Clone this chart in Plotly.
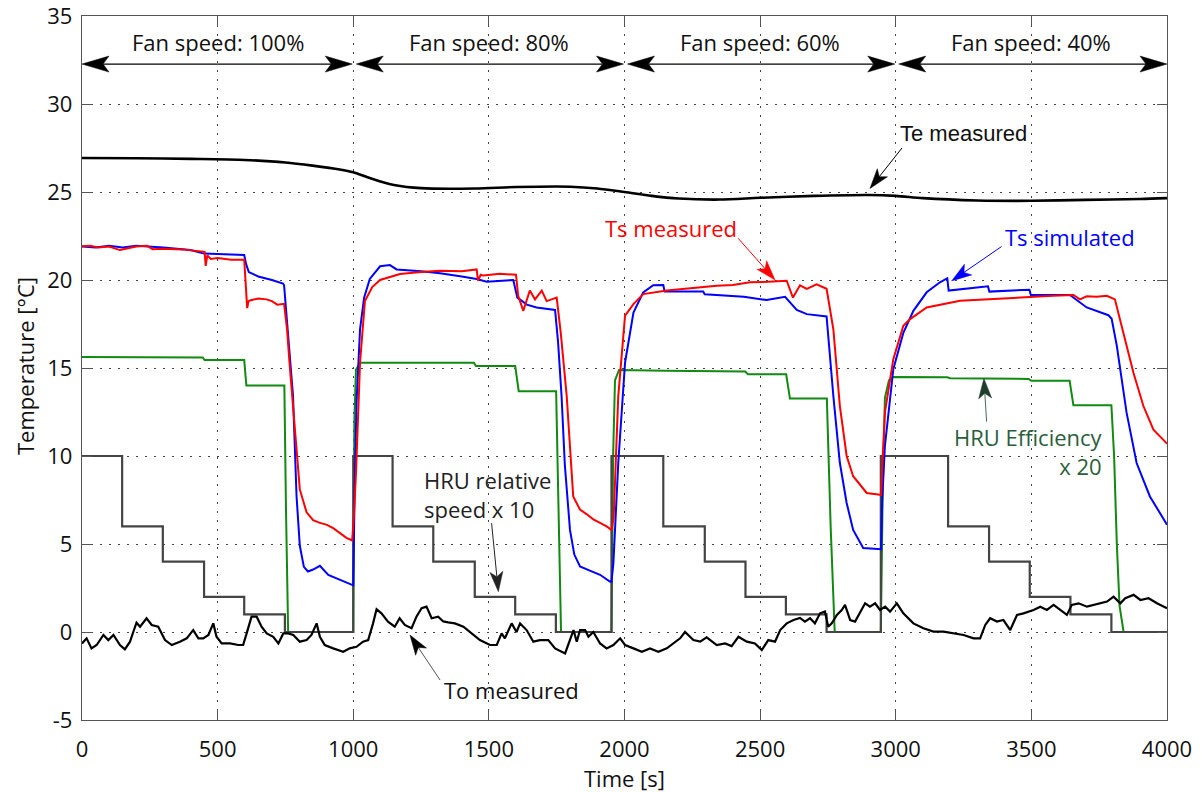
import math
import plotly.graph_objects as go

# ---------------- data ----------------
te_t = [0, 200, 400, 600, 750, 850, 950, 1000, 1050, 1100, 1150, 1250, 1450, 1600, 1800, 1900,
        2000, 2100, 2200, 2350, 2500, 2700, 2900, 3000, 3100, 3300, 3500, 3700, 3900, 4000]
te_v = [26.93, 26.92, 26.88, 26.82, 26.68, 26.5, 26.28, 26.12, 25.85, 25.6, 25.4, 25.22, 25.2, 25.28, 25.3, 25.2,
        25.0, 24.78, 24.63, 24.57, 24.67, 24.78, 24.83, 24.78, 24.65, 24.52, 24.5, 24.55, 24.6, 24.65]

to_t = [0, 17, 35, 54, 79, 97, 116, 140, 158, 177, 189, 201, 214, 238, 257, 281, 306, 331, 361, 386,
        410, 429, 447, 466, 484, 496, 515, 546, 576, 594, 607, 625, 644, 662, 681, 705, 724, 742, 760, 779,
        803, 828, 846, 865, 877, 895, 926, 963, 987, 1012, 1036, 1055, 1073, 1086, 1104, 1128, 1153, 1171, 1190, 1215,
        1233, 1252, 1270, 1289, 1313, 1332, 1350, 1375, 1406, 1436, 1467, 1504, 1529, 1547, 1559, 1584, 1602, 1615, 1639, 1664,
        1688, 1719, 1744, 1781, 1799, 1812, 1824, 1836, 1855, 1867, 1885, 1910, 1934, 1959, 1984, 2002, 2033, 2064, 2094, 2125,
        2156, 2180, 2205, 2223, 2254, 2279, 2303, 2340, 2371, 2395, 2420, 2451, 2481, 2506, 2530, 2555, 2574, 2598, 2623, 2647,
        2665, 2684, 2702, 2721, 2739, 2751, 2764, 2783, 2801, 2813, 2832, 2850, 2868, 2887, 2905, 2924, 2942, 2961, 2979, 3004,
        3028, 3065, 3102, 3139, 3176, 3213, 3250, 3287, 3311, 3330, 3348, 3373, 3397, 3422, 3447, 3471, 3508, 3533, 3557, 3582,
        3606, 3631, 3649, 3674, 3705, 3729, 3754, 3779, 3803, 3828, 3846, 3877, 3902, 3932, 3963, 4000]
to_v = [-0.65, -0.36, -0.93, -0.74, -0.17, -0.46, -0.17, -0.74, -0.99, -0.55, 0.0, 0.53, 0.3, 0.78, 0.4, 0.3, -0.46, -0.74, -0.55, -0.36,
        0.11, -0.36, -0.36, -0.17, 0.49, -0.27, -0.65, -0.65, -0.74, -0.74, -0.08, 0.87, 0.87, 0.3, -0.08, -0.27, -0.65, -0.08, -0.08, -0.17,
        -0.55, -0.46, -0.17, 0.49, -0.27, -0.74, -0.93, -1.12, -0.93, -0.84, -0.55, -0.46, 0.49, 1.29, 1.06, 0.59, 0.3, 0.78, 0.4, 0.21,
        0.87, 1.35, 1.44, 0.78, 0.87, 0.6, 0.55, 0.49, 0.3, -0.08, -0.46, -0.74, -0.74, -0.08, -0.36, 0.49, 0.0, 0.49, 0.11, -0.55,
        -0.46, -0.46, -0.93, -1.22, -0.46, 0.11, -0.55, 0.11, 0.11, -0.27, 0.0, -0.65, -0.93, -0.74, -0.36, -0.74, -0.93, -1.12, -0.93, -1.12,
        -0.93, -0.65, -0.36, 0.0, -0.46, -0.55, -0.3, -0.74, -0.65, -0.8, -0.27, -0.55, -0.65, -1.03, -0.46, -0.55, 0.11, 0.49, 0.68, 0.8,
        0.59, 0.78, 0.49, 1.06, 1.16, 0.3, 0.49, 0.97, 1.25, 1.54, 0.68, 0.59, 1.06, 1.63, 1.44, 1.63, 1.25, 1.44, 1.16, 1.63,
        1.06, 0.49, 0.21, 0.02, 0.02, -0.08, -0.17, -0.36, -0.36, 0.4, 0.78, 0.59, 0.68, 0.11, 0.97, 1.06, 1.25, 1.44, 1.25, 1.54,
        1.25, 0.97, 1.54, 1.63, 1.44, 1.54, 1.63, 1.73, 2.01, 1.63, 1.92, 2.11, 1.82, 1.92, 1.63, 1.35]

speed_t = [0, 148, 298, 450, 598, 748, 1000, 1145, 1295, 1448, 1597, 1747, 1952, 2143, 2296, 2446,
           2595, 2745, 2945, 3193, 3344, 3494, 3644, 3795, 4000]
speed_v = [10, 6, 4, 2, 1, 0, 10, 6, 4, 2, 1, 0, 10, 6, 4, 2, 1, 0, 10, 6, 4, 2, 1, 0, 0]

eff_t = [0, 445, 452, 598, 606, 746, 752, 760, 1000, 1004, 1010, 1025, 1445, 1452, 1597, 1610, 1748, 1756, 1766,
         1952, 1958, 1965, 1980, 2150, 2445, 2455, 2596, 2610, 2746, 2760, 2775,
         2945, 2952, 2960, 2975, 2990, 3190, 3200, 3490, 3500, 3641, 3655, 3795, 3805, 3815, 3825, 3840, 4000]
eff_v = [15.63, 15.6, 15.45, 15.45, 14.0, 14.0, 7.0, 0.0, 0.0, 12.0, 14.9, 15.3, 15.3, 15.12, 15.12, 13.68, 13.68, 7.0, 0.0,
         0.0, 10.0, 14.3, 14.89, 14.85, 14.8, 14.64, 14.64, 13.26, 13.26, 6.0, 0.0,
         0.0, 8.0, 13.3, 14.3, 14.49, 14.47, 14.42, 14.38, 14.27, 14.27, 12.88, 12.88, 10.0, 5.0, 1.5, 0.0, 0.0]

sim_t = [0, 50, 100, 150, 200, 250, 300, 400, 450, 598, 605, 615, 650, 700, 741, 745, 758, 778, 791, 803, 818, 833, 852, 877,
         908, 951, 994, 1000, 1005, 1012, 1025, 1040, 1061, 1099, 1135, 1150, 1160, 1250, 1320, 1400, 1455, 1492, 1550, 1590,
         1605, 1640, 1676, 1744, 1755, 1768, 1780, 1799, 1815, 1836, 1870, 1910, 1946, 1952,
         1959, 1977, 2002, 2033, 2069, 2106, 2143, 2148, 2290, 2296, 2440, 2524, 2592, 2635, 2672, 2745, 2770, 2794, 2819,
         2843, 2880, 2942, 2946, 2950, 2960, 2991, 3028, 3065, 3114, 3163, 3190, 3195, 3340, 3345, 3493, 3498, 3642, 3704,
         3784, 3796, 3815, 3851, 3888, 3937, 4000]
sim_v = [21.9, 21.85, 21.95, 21.85, 21.95, 21.9, 21.85, 21.7, 21.5, 21.42, 20.9, 20.45, 20.2, 20.0, 19.8, 19.7, 17.2, 13.4, 7.7, 4.9, 3.7, 3.44, 3.55, 3.76,
         3.24, 2.95, 2.65, 2.65, 8.0, 13.0, 17.2, 19.0, 20.06, 20.78, 20.85, 20.7, 20.6, 20.5, 20.38, 20.2, 20.06, 19.9, 19.95, 20.0,
         19.0, 18.6, 18.44, 18.3, 16.5, 13.4, 9.5, 5.8, 4.4, 3.72, 3.5, 3.25, 2.87, 2.85,
         3.9, 9.6, 15.3, 18.15, 19.3, 19.7, 19.72, 19.34, 19.34, 19.19, 19.05, 18.86, 19.05, 18.3, 18.06, 17.93, 13.4, 9.6, 7.33,
         5.8, 4.77, 4.7, 4.7, 7.5, 10.56, 14.93, 17.0, 18.25, 19.3, 19.87, 20.1, 19.4, 19.64, 19.34, 19.45, 19.15, 19.15, 18.44,
         18.0, 17.8, 16.26, 12.46, 9.6, 7.7, 6.1]

meas_t = [0, 30, 60, 100, 140, 170, 200, 240, 260, 300, 370, 452, 456, 462, 475, 500, 550, 598, 604, 609, 614, 622, 650, 680,
          700, 720, 745, 756, 765, 778, 791, 803, 828, 852, 877, 901, 926, 951, 975, 996,
          1002, 1010, 1025, 1043, 1070, 1099, 1172, 1250, 1320, 1400, 1455, 1460, 1470, 1480, 1540, 1600, 1608, 1627, 1651, 1670,
          1695, 1713, 1750, 1765, 1787, 1811, 1836, 1860, 1885, 1910, 1934, 1952,
          1960, 1977, 2002, 2033, 2069, 2156, 2250, 2340, 2400, 2463, 2530, 2598, 2621, 2647, 2672, 2690, 2708, 2745, 2770,
          2794, 2819, 2843, 2893, 2942, 2946, 2952, 2960, 2991, 3028, 3053, 3114, 3237, 3330, 3421, 3507, 3580, 3655,
          3679, 3704, 3740, 3778, 3808, 3839, 3876, 3913, 3950, 4000]
meas_v = [21.92, 21.95, 21.85, 21.9, 21.7, 21.8, 21.9, 21.95, 21.75, 21.78, 21.74, 21.6, 20.8, 21.4, 21.2, 21.25, 21.15, 21.15, 19.8, 18.4, 18.8, 18.85, 18.95, 18.9,
          18.8, 18.6, 18.65, 17.2, 15.3, 12.8, 9.96, 8.1, 6.8, 6.35, 6.2, 6.1, 5.9, 5.6, 5.35, 5.2,
          6.5, 9.0, 15.3, 18.8, 19.6, 20.0, 20.34, 20.45, 20.53, 20.5, 20.6, 19.96, 20.3, 20.25, 20.35, 20.3, 19.1, 18.25, 19.4, 18.9,
          19.4, 18.8, 19.0, 17.0, 13.4, 7.7, 6.95, 6.7, 6.4, 6.2, 6.0, 5.8,
          6.5, 13.4, 17.97, 18.63, 19.2, 19.4, 19.55, 19.68, 19.72, 19.87, 19.9, 19.96, 19.0, 19.7, 19.5, 19.62, 19.75, 19.5, 17.2,
          12.84, 10.0, 8.85, 7.9, 7.8, 7.8, 10.0, 12.46, 15.5, 17.4, 17.78, 18.44, 18.82, 18.9, 18.97, 19.07, 19.1, 19.15,
          18.9, 19.07, 19.05, 19.1, 18.9, 17.0, 14.74, 12.84, 11.5, 10.7]

x_ticks = [0, 500, 1000, 1500, 2000, 2500, 3000, 3500, 4000]
y_ticks = [-5, 0, 5, 10, 15, 20, 25, 30, 35]
fan_bounds = [0, 1000, 2000, 3000, 4000]
fan_labels = ["Fan speed: 100%", "Fan speed: 80%", "Fan speed: 60%", "Fan speed: 40%"]

for a, b in [(te_t, te_v), (to_t, to_v), (speed_t, speed_v), (eff_t, eff_v), (sim_t, sim_v), (meas_t, meas_v)]:
    assert len(a) == len(b), (len(a), len(b))

# ---------------- figure ----------------
W, H = 1202, 792
ML, MR, MT, MB = 82, 35, 16, 72
X0, X1, Y0, Y1 = 0, 4000, -5, 35
PW, PH = W - ML - MR, H - MT - MB
XPPU = PW / (X1 - X0)
YPPU = PH / (Y1 - Y0)

FONT = "Open Sans"

fig = go.Figure()
fig.add_trace(go.Scatter(x=eff_t, y=eff_v, mode="lines", line=dict(color="#118a11", width=2), name="HRU efficiency x 20"))
fig.add_trace(go.Scatter(x=speed_t, y=speed_v, mode="lines", line=dict(color="#444444", width=2.2, shape="hv"), name="HRU relative speed x 10"))
fig.add_trace(go.Scatter(x=sim_t, y=sim_v, mode="lines", line=dict(color="#0000ff", width=2), name="Ts simulated"))
fig.add_trace(go.Scatter(x=meas_t, y=meas_v, mode="lines", line=dict(color="#ff0000", width=2), name="Ts measured"))
fig.add_trace(go.Scatter(x=te_t, y=te_v, mode="lines", line=dict(color="#000000", width=2.6, shape="spline", smoothing=0.8), name="Te measured"))
fig.add_trace(go.Scatter(x=to_t, y=to_v, mode="lines", line=dict(color="#000000", width=2.2), name="To measured"))

shapes = []


def arrow(x0, y0, x1, y1, color, head_color=None, lw=1.0, hl=20, hw=6.5, notch=5):
    head_color = head_color or color
    dx = (x1 - x0) * XPPU
    dy = (y1 - y0) * YPPU
    L = math.hypot(dx, dy)
    ux, uy = dx / L, dy / L
    nx, ny = -uy, ux

    def to_data(px, py):
        return x1 + px / XPPU, y1 + py / YPPU

    bx, by = -ux * hl, -uy * hl
    lx, ly = to_data(bx + nx * hw, by + ny * hw)
    rx, ry = to_data(bx - nx * hw, by - ny * hw)
    kx, ky = to_data(-ux * (hl - notch), -uy * (hl - notch))
    shapes.append(dict(type="line", xref="x", yref="y", x0=x0, y0=y0, x1=kx, y1=ky,
                       line=dict(color=color, width=lw)))
    shapes.append(dict(type="path", xref="x", yref="y",
                       path=f"M{x1},{y1} L{lx},{ly} L{kx},{ky} L{rx},{ry} Z",
                       fillcolor=head_color, line=dict(color=head_color, width=0.5)))


# fan-speed double arrows
FAN_Y = 32.27
for i in range(4):
    a, b = fan_bounds[i], fan_bounds[i + 1]
    mid = (a + b) / 2
    arrow(mid, FAN_Y, a + (3 / XPPU if i > 0 else 0), FAN_Y, "#000", lw=1.2, hl=27, hw=8, notch=6)
    arrow(mid, FAN_Y, b - (1 / XPPU if i < 3 else 0), FAN_Y, "#000", lw=1.2, hl=27, hw=8, notch=6)

# callout arrows
arrow(3023, 27.5, 2905, 25.2, "#000")
arrow(2419, 22.37, 2555, 20.0, "#ff0000")
arrow(3390, 21.9, 3206, 19.95, "#0000ff")
arrow(3335, 11.95, 3325, 14.41, "#4a6a55", head_color="#1e3d2a")
arrow(1510, 6.18, 1535, 2.29, "#222")
arrow(1320, -2.73, 1209, -0.17, "#555", head_color="#000")

annotations = []
for i, lab in enumerate(fan_labels):
    annotations.append(dict(x=(fan_bounds[i] + fan_bounds[i + 1]) / 2, y=33.5, text=lab, showarrow=False,
                            xanchor="center", yanchor="middle", font=dict(family=FONT, size=22, color="#111")))


def txt(x, y, t, color="#111", xanchor="center", size=22, family=FONT, align="center"):
    annotations.append(dict(x=x, y=y, text=t, showarrow=False, xanchor=xanchor, yanchor="middle", align=align,
                            font=dict(family=family, size=size, color=color)))


txt(3248, 28.35, "Te measured", family="Liberation Sans")
txt(2170, 22.95, "Ts measured", color="#ff0000")
txt(3641, 22.44, "Ts simulated", color="#0000ff")
txt(3771, 10.26, "HRU Efficiency<br>x 20", color="#2b5e3b", xanchor="right", align="right")
txt(1252, 7.83, "HRU relative<br>speed x 10", color="#222", xanchor="left", align="left")
txt(1585, -3.3, "To measured", color="#111")

# axis titles placed in paper coordinates
annotations.append(dict(xref="paper", yref="paper", x=0.5, y=-(778 - (H - MB)) / PH, text="Time [s]",
                        showarrow=False, xanchor="center", yanchor="middle",
                        font=dict(family=FONT, size=22, color="#111")))
annotations.append(dict(xref="paper", yref="paper", x=(25 - ML) / PW, y=((H - MB) - 366) / PH,
                        text="Temperature [°C]", textangle=-90, showarrow=False,
                        xanchor="center", yanchor="middle",
                        font=dict(family=FONT, size=22, color="#111")))

axis_common = dict(showline=True, linecolor="#555", linewidth=1.3, mirror="ticks", ticks="inside",
                   ticklen=10, tickcolor="#555", tickwidth=1, automargin=False,
                   ticklabeloverflow="allow",
                   showgrid=True, gridcolor="#444", griddash="2px,7px", gridwidth=1,
                   zeroline=False, tickfont=dict(family=FONT, size=22, color="#111"))

fig.update_layout(
    width=W, height=H,
    margin=dict(l=ML, r=MR, t=MT, b=MB, autoexpand=False),
    paper_bgcolor="white", plot_bgcolor="white",
    showlegend=False,
    shapes=shapes, annotations=annotations,
    xaxis=dict(range=[X0, X1 + 0.01], tickvals=x_ticks, ticktext=[str(v) for v in x_ticks],
               ticklabelstandoff=9, **axis_common),
    yaxis=dict(range=[Y0 - 0.0001, Y1 + 0.0001], tickvals=y_ticks, ticktext=[str(v) for v in y_ticks],
               ticklabelstandoff=4, **axis_common),
)

fig.write_html("out.html")
